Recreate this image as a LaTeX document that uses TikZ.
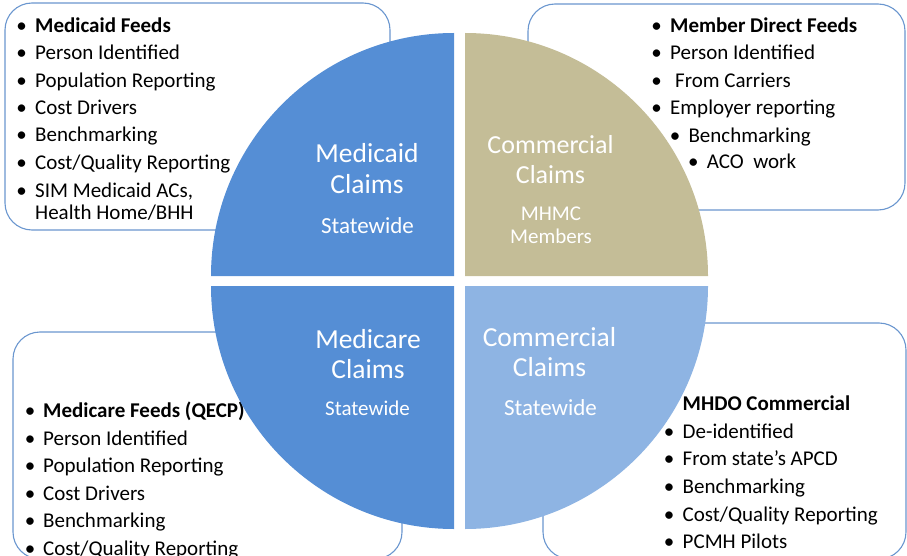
\documentclass[tikz,border=0pt]{standalone}
\usepackage{fontspec}
\setmainfont{Carlito}
\definecolor{boxline}{HTML}{6A96CF}
\definecolor{qblue}{HTML}{558ED5}
\definecolor{qtan}{HTML}{C4BD97}
\definecolor{qlight}{HTML}{8EB4E3}
\tikzset{
  listtext/.style={inner sep=0pt, font=\fontsize{21}{25}\selectfont, text=black},
  listhead/.style={listtext, font=\fontsize{21}{25}\selectfont\bfseries},
  infobox/.style={draw=boxline, line width=1.1pt, rounded corners=27, fill=white},
  qtitle/.style={inner sep=0pt, text=white, anchor=base, font=\fontsize{27.5}{30}\selectfont},
  qsub/.style={inner sep=0pt, text=white, anchor=base, font=\fontsize{21}{25}\selectfont},
}
% bullet at x #1, text at x #2, baseline #3, text #4, style #5
\newcommand\blt[5]{%
  \node[listtext, anchor=base] at (#1,#3) {•};
  \node[#5, anchor=base west] at (#2,#3) {#4};}
\begin{document}
\begin{tikzpicture}[x=1pt,y=-1pt]
\useasboundingbox (0,0) rectangle (907,556);
\clip (0,0) rectangle (907,556);
% boxes
\draw[infobox] (5,3) rectangle (390,230);
\draw[infobox] (528,4) rectangle (905,210);
\draw[infobox] (13,332) rectangle (402,559);
\draw[infobox] (543,323) rectangle (906,559);
% top-left list
\blt{21.7}{35}{32.3}{Medicaid Feeds}{listhead}
\blt{21.7}{35}{60}{Person Identified}{listtext}
\blt{21.7}{35}{87.5}{Population Reporting}{listtext}
\blt{21.7}{35}{115}{Cost Drivers}{listtext}
\blt{21.7}{35}{142}{Benchmarking}{listtext}
\blt{21.7}{35}{170}{Cost/Quality Reporting}{listtext}
\blt{21.7}{35}{197.7}{SIM Medicaid ACs,}{listtext}
\node[listtext, anchor=base west] at (35,219.3) {Health Home/BHH};
% top-right list
\blt{656.7}{670}{32.3}{Member Direct Feeds}{listhead}
\blt{656.7}{670}{60}{Person Identified}{listtext}
\blt{656.7}{675}{87.5}{From Carriers}{listtext}
\blt{656.7}{670}{115}{Employer reporting}{listtext}
\blt{675}{688.3}{142.5}{Benchmarking}{listtext}
\blt{693.3}{706.7}{168.3}{ACO\ \ work}{listtext}
% bottom-left list
\blt{30}{43}{417.3}{Medicare Feeds (QECP)}{listhead}
\blt{30}{43}{445}{Person Identified}{listtext}
\blt{30}{43}{472.3}{Population Reporting}{listtext}
\blt{30}{43}{500}{Cost Drivers}{listtext}
\blt{30}{43}{527.7}{Benchmarking}{listtext}
\blt{30}{43}{555}{Cost/Quality Reporting}{listtext}
% bottom-right list
\node[listhead, anchor=base west] at (682.5,410.7) {MHDO Commercial};
\blt{669}{682.5}{438.3}{De-identified}{listtext}
\blt{669}{682.5}{465.7}{From state’s APCD}{listtext}
\blt{669}{682.5}{493.3}{Benchmarking}{listtext}
\blt{669}{682.5}{521.7}{Cost/Quality Reporting}{listtext}
\blt{669}{682.5}{548.3}{PCMH Pilots}{listtext}
% quadrants
\fill[qblue]  (454,276) -- (211,276) arc[start angle=180, end angle=270, radius=243] -- cycle;
\fill[qtan]   (465,276) -- (465,33)  arc[start angle=270, end angle=360, radius=243] -- cycle;
\fill[qblue]  (454,286) -- (454,529) arc[start angle=90, end angle=180, radius=243] -- cycle;
\fill[qlight] (465,286) -- (708,286) arc[start angle=0, end angle=90, radius=243] -- cycle;
% quadrant texts
\node[qtitle] (mcd1) at (367,162.3) {Medicaid};
\node[qtitle] (mcd2) at (367,193.3) {Claims};
\node[qsub, font=\fontsize{23}{26}\selectfont] (mcd3) at (367.5,233.3) {Statewide};
\node[qtitle, font=\fontsize{26}{29}\selectfont] (cm1) at (550.5,154) {Commercial};
\node[qtitle, font=\fontsize{26}{29}\selectfont] (cm2) at (550.5,183.3) {Claims};
\node[qsub] (cm3) at (551,220) {MHMC};
\node[qsub] (cm4) at (551,243.3) {Members};
\node[qtitle] (mcr1) at (368,348.3) {Medicare};
\node[qtitle] (mcr2) at (368,378.3) {Claims};
\node[qsub] (mcr3) at (367.5,415) {Statewide};
\node[qtitle] (cs1) at (549.5,346.7) {Commercial};
\node[qtitle] (cs2) at (549.5,376.7) {Claims};
\node[qsub, font=\fontsize{23}{26}\selectfont] (cs3) at (550.5,415) {Statewide};
\end{tikzpicture}
\end{document}
